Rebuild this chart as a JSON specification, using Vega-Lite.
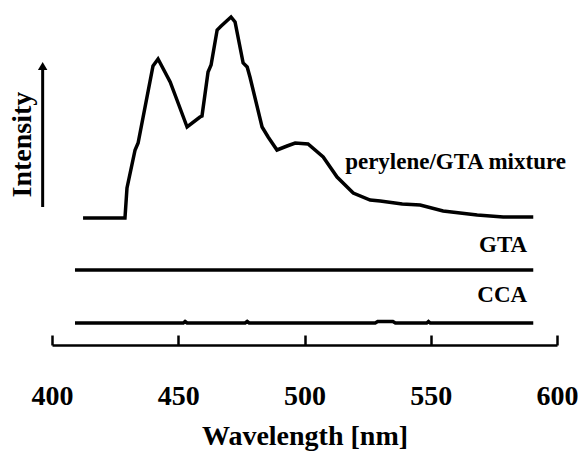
{
  "$schema": "https://vega.github.io/schema/vega-lite/v6.json",
  "width": 505,
  "height": 335,
  "autosize": "none",
  "padding": {"left": 52, "top": 10, "right": 21, "bottom": 106},
  "background": "white",
  "config": {"view": {"stroke": null}},
  "datasets": {
    "spectra": [
      {"series": "perylene/GTA mixture", "wl": 412.3, "v": 127},
      {"series": "perylene/GTA mixture", "wl": 428.9, "v": 127},
      {"series": "perylene/GTA mixture", "wl": 429.7, "v": 157},
      {"series": "perylene/GTA mixture", "wl": 432.9, "v": 195},
      {"series": "perylene/GTA mixture", "wl": 434.1, "v": 202},
      {"series": "perylene/GTA mixture", "wl": 440.0, "v": 279},
      {"series": "perylene/GTA mixture", "wl": 442.0, "v": 286},
      {"series": "perylene/GTA mixture", "wl": 446.8, "v": 263},
      {"series": "perylene/GTA mixture", "wl": 449.5, "v": 245},
      {"series": "perylene/GTA mixture", "wl": 453.5, "v": 218},
      {"series": "perylene/GTA mixture", "wl": 458.6, "v": 228},
      {"series": "perylene/GTA mixture", "wl": 459.4, "v": 229},
      {"series": "perylene/GTA mixture", "wl": 461.8, "v": 273},
      {"series": "perylene/GTA mixture", "wl": 463.0, "v": 280},
      {"series": "perylene/GTA mixture", "wl": 465.4, "v": 315},
      {"series": "perylene/GTA mixture", "wl": 467.0, "v": 319},
      {"series": "perylene/GTA mixture", "wl": 470.9, "v": 328},
      {"series": "perylene/GTA mixture", "wl": 472.5, "v": 323},
      {"series": "perylene/GTA mixture", "wl": 475.7, "v": 282},
      {"series": "perylene/GTA mixture", "wl": 477.3, "v": 278},
      {"series": "perylene/GTA mixture", "wl": 478.4, "v": 268},
      {"series": "perylene/GTA mixture", "wl": 483.2, "v": 218},
      {"series": "perylene/GTA mixture", "wl": 485.6, "v": 208},
      {"series": "perylene/GTA mixture", "wl": 489.1, "v": 195},
      {"series": "perylene/GTA mixture", "wl": 493.1, "v": 199},
      {"series": "perylene/GTA mixture", "wl": 496.3, "v": 202},
      {"series": "perylene/GTA mixture", "wl": 501.4, "v": 201},
      {"series": "perylene/GTA mixture", "wl": 507.4, "v": 188},
      {"series": "perylene/GTA mixture", "wl": 512.9, "v": 168},
      {"series": "perylene/GTA mixture", "wl": 519.3, "v": 152},
      {"series": "perylene/GTA mixture", "wl": 526.0, "v": 145},
      {"series": "perylene/GTA mixture", "wl": 530.0, "v": 144},
      {"series": "perylene/GTA mixture", "wl": 538.7, "v": 141},
      {"series": "perylene/GTA mixture", "wl": 545.8, "v": 140},
      {"series": "perylene/GTA mixture", "wl": 554.9, "v": 134},
      {"series": "perylene/GTA mixture", "wl": 568.4, "v": 130},
      {"series": "perylene/GTA mixture", "wl": 578.7, "v": 128},
      {"series": "perylene/GTA mixture", "wl": 590.6, "v": 128},
      {"series": "GTA", "wl": 409.1, "v": 75},
      {"series": "GTA", "wl": 590.6, "v": 75},
      {"series": "CCA", "wl": 409.1, "v": 22},
      {"series": "CCA", "wl": 452.0, "v": 22},
      {"series": "CCA", "wl": 452.7, "v": 23.5},
      {"series": "CCA", "wl": 453.5, "v": 22},
      {"series": "CCA", "wl": 476.5, "v": 22},
      {"series": "CCA", "wl": 477.3, "v": 23.5},
      {"series": "CCA", "wl": 478.1, "v": 22},
      {"series": "CCA", "wl": 528.0, "v": 22},
      {"series": "CCA", "wl": 529.0, "v": 23.5},
      {"series": "CCA", "wl": 535.0, "v": 23.5},
      {"series": "CCA", "wl": 536.0, "v": 22},
      {"series": "CCA", "wl": 548.4, "v": 22},
      {"series": "CCA", "wl": 549.1, "v": 23.5},
      {"series": "CCA", "wl": 549.8, "v": 22},
      {"series": "CCA", "wl": 590.6, "v": 22}
    ],
    "leftLabels": [
      {"label": "perylene/GTA mixture", "wl": 516.1, "v": 183}
    ],
    "rightLabels": [
      {"label": "GTA", "wl": 588.2, "v": 100},
      {"label": "CCA", "wl": 588.2, "v": 50}
    ],
    "arrow": [
      {"wl": 396.3, "v0": 138, "v1": 279}
    ]
  },
  "layer": [
    {
      "data": {"name": "spectra"},
      "mark": {"type": "line", "color": "black", "strokeWidth": 3.5, "strokeJoin": "miter", "strokeCap": "butt"},
      "encoding": {
        "x": {
          "field": "wl", "type": "quantitative",
          "scale": {"domain": [400, 600], "nice": false, "zero": false},
          "axis": {
            "values": [400, 450, 500, 550, 600],
            "grid": false,
            "domainColor": "black", "domainWidth": 2.5,
            "tickColor": "black", "tickWidth": 2.5, "tickSize": -10,
            "labelFont": "Liberation Serif", "labelFontWeight": "bold", "labelFontSize": 28, "labelColor": "black",
            "labelPadding": 47, "labelFlush": false, "labelOverlap": false,
            "title": "Wavelength [nm]",
            "titleFont": "Liberation Serif", "titleFontWeight": "bold", "titleFontSize": 28, "titleColor": "black",
            "titlePadding": 12
          }
        },
        "y": {
          "field": "v", "type": "quantitative",
          "scale": {"domain": [0, 335], "nice": false, "zero": false},
          "axis": {
            "domain": false, "ticks": false, "labels": false, "grid": false,
            "title": "Intensity",
            "titleFont": "Liberation Serif", "titleFontWeight": "bold", "titleFontSize": 28, "titleColor": "black",
            "titleAngle": -90, "titleAlign": "left", "titleBaseline": "alphabetic",
            "titleX": -22, "titleY": 187
          }
        },
        "detail": {"field": "series"}
      }
    },
    {
      "data": {"name": "arrow"},
      "mark": {"type": "rule", "color": "black", "strokeWidth": 3},
      "encoding": {
        "x": {"field": "wl", "type": "quantitative"},
        "y": {"field": "v0", "type": "quantitative"},
        "y2": {"field": "v1"}
      }
    },
    {
      "data": {"name": "arrow"},
      "mark": {"type": "point", "shape": "triangle-up", "filled": true, "color": "black", "opacity": 1, "size": 90},
      "encoding": {
        "x": {"field": "wl", "type": "quantitative"},
        "y": {"field": "v1", "type": "quantitative"}
      }
    },
    {
      "data": {"name": "leftLabels"},
      "mark": {"type": "text", "font": "Liberation Serif", "fontWeight": "bold", "fontSize": 23, "color": "black", "baseline": "middle", "align": "left"},
      "encoding": {
        "x": {"field": "wl", "type": "quantitative"},
        "y": {"field": "v", "type": "quantitative"},
        "text": {"field": "label"}
      }
    },
    {
      "data": {"name": "rightLabels"},
      "mark": {"type": "text", "font": "Liberation Serif", "fontWeight": "bold", "fontSize": 23, "color": "black", "baseline": "middle", "align": "right"},
      "encoding": {
        "x": {"field": "wl", "type": "quantitative"},
        "y": {"field": "v", "type": "quantitative"},
        "text": {"field": "label"}
      }
    }
  ]
}
